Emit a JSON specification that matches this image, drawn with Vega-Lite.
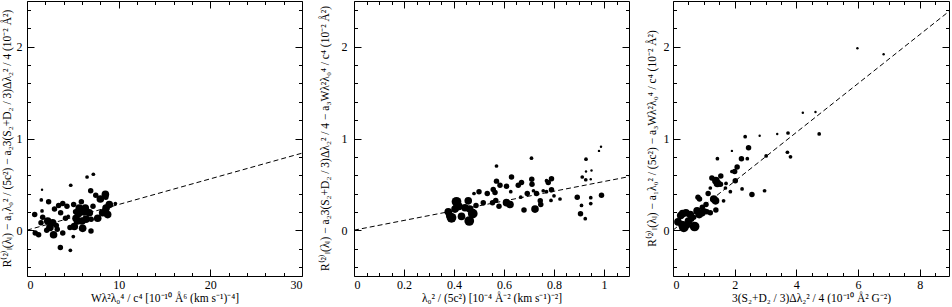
{
  "$schema": "https://vega.github.io/schema/vega-lite/v6.json",
  "padding": {"left": 0, "top": 0, "right": 0, "bottom": 0},
  "config": {
    "view": {"stroke": "black", "strokeWidth": 1},
    "axis": {"domain": false, "grid": false, "labelFont": "Liberation Serif", "titleFont": "Liberation Serif", "labelFontSize": 12, "titleFontSize": 11.5, "titleFontWeight": "normal", "labelColor": "black", "titleColor": "black", "tickColor": "black", "tickWidth": 1, "titleLimit": 400, "format": "~r"}
  },
  "datasets": {
    "p1": [
      {"x": 0.84, "y": 0.17, "w": 3}, {"x": 0.9, "y": -0.03, "w": 3}, {"x": 1.27, "y": -0.05, "w": 3}, {"x": 1.64, "y": 0.44, "w": 1},
      {"x": 1.56, "y": 0.33, "w": 2}, {"x": 1.64, "y": 0.21, "w": 2}, {"x": 1.71, "y": 0.14, "w": 3}, {"x": 1.53, "y": 0.08, "w": 3},
      {"x": 2.36, "y": 0.31, "w": 3}, {"x": 2.26, "y": 0.1, "w": 4}, {"x": 2.15, "y": 0.0, "w": 3}, {"x": 2.5, "y": 0.03, "w": 4},
      {"x": 2.8, "y": 0.08, "w": 4}, {"x": 2.9, "y": -0.05, "w": 4}, {"x": 3.0, "y": 0.23, "w": 3}, {"x": 3.2, "y": 0.05, "w": 3},
      {"x": 3.45, "y": 0.27, "w": 3}, {"x": 3.3, "y": 0.01, "w": 3}, {"x": 3.67, "y": 0.19, "w": 3}, {"x": 3.64, "y": -0.19, "w": 3},
      {"x": 3.9, "y": 0.29, "w": 3}, {"x": 3.9, "y": -0.03, "w": 3}, {"x": 4.2, "y": 0.13, "w": 3}, {"x": 4.36, "y": 0.26, "w": 3},
      {"x": 4.77, "y": 0.49, "w": 2}, {"x": 4.73, "y": -0.22, "w": 2}, {"x": 4.69, "y": 0.03, "w": 3}, {"x": 5.05, "y": -0.07, "w": 2},
      {"x": 5.09, "y": 0.28, "w": 3}, {"x": 5.16, "y": 0.04, "w": 4}, {"x": 5.35, "y": 0.13, "w": 4}, {"x": 5.5, "y": 0.1, "w": 4},
      {"x": 5.7, "y": 0.24, "w": 4}, {"x": 5.6, "y": 0.18, "w": 4}, {"x": 5.93, "y": 0.31, "w": 3}, {"x": 6.0, "y": 0.1, "w": 4},
      {"x": 6.07, "y": 0.02, "w": 4}, {"x": 6.2, "y": 0.2, "w": 4}, {"x": 6.36, "y": 0.24, "w": 4}, {"x": 6.44, "y": 0.12, "w": 4},
      {"x": 6.55, "y": 0.58, "w": 2}, {"x": 6.8, "y": 0.19, "w": 4}, {"x": 6.95, "y": 0.43, "w": 3}, {"x": 6.98, "y": -0.01, "w": 3},
      {"x": 7.0, "y": 0.12, "w": 3}, {"x": 7.24, "y": 0.61, "w": 2}, {"x": 7.5, "y": 0.38, "w": 3}, {"x": 7.71, "y": 0.13, "w": 4},
      {"x": 8.0, "y": 0.34, "w": 4}, {"x": 8.25, "y": 0.19, "w": 4}, {"x": 8.55, "y": 0.39, "w": 4}, {"x": 8.62, "y": 0.24, "w": 4},
      {"x": 8.6, "y": 0.36, "w": 3}, {"x": 8.8, "y": 0.17, "w": 4}, {"x": 8.98, "y": 0.28, "w": 4}, {"x": 9.64, "y": 0.29, "w": 2},
      {"x": 7.2, "y": 0.26, "w": 3}, {"x": 5.3, "y": 0.2, "w": 3}, {"x": 4.5, "y": 0.15, "w": 2}
    ],
    "p2": [
      {"x": 0.377, "y": 0.2, "w": 4}, {"x": 0.383, "y": 0.16, "w": 4}, {"x": 0.39, "y": 0.135, "w": 5}, {"x": 0.41, "y": 0.31, "w": 5},
      {"x": 0.404, "y": 0.23, "w": 4}, {"x": 0.43, "y": 0.15, "w": 4}, {"x": 0.42, "y": 0.26, "w": 4}, {"x": 0.444, "y": 0.245, "w": 4},
      {"x": 0.457, "y": 0.32, "w": 4}, {"x": 0.463, "y": 0.23, "w": 4}, {"x": 0.461, "y": 0.1, "w": 5}, {"x": 0.475, "y": 0.18, "w": 5},
      {"x": 0.488, "y": 0.27, "w": 3}, {"x": 0.48, "y": 0.4, "w": 2}, {"x": 0.5, "y": 0.42, "w": 3}, {"x": 0.517, "y": 0.3, "w": 3},
      {"x": 0.533, "y": 0.4, "w": 3}, {"x": 0.557, "y": 0.445, "w": 3}, {"x": 0.564, "y": 0.41, "w": 3}, {"x": 0.567, "y": 0.325, "w": 3},
      {"x": 0.57, "y": 0.535, "w": 3}, {"x": 0.57, "y": 0.7, "w": 2}, {"x": 0.554, "y": 0.3, "w": 3}, {"x": 0.584, "y": 0.49, "w": 3},
      {"x": 0.58, "y": 0.26, "w": 3}, {"x": 0.61, "y": 0.48, "w": 3}, {"x": 0.61, "y": 0.3, "w": 4}, {"x": 0.624, "y": 0.28, "w": 4},
      {"x": 0.627, "y": 0.42, "w": 2}, {"x": 0.63, "y": 0.58, "w": 3}, {"x": 0.657, "y": 0.49, "w": 3}, {"x": 0.667, "y": 0.36, "w": 2},
      {"x": 0.67, "y": 0.52, "w": 3}, {"x": 0.68, "y": 0.22, "w": 3}, {"x": 0.693, "y": 0.4, "w": 3}, {"x": 0.724, "y": 0.23, "w": 4},
      {"x": 0.73, "y": 0.4, "w": 3}, {"x": 0.745, "y": 0.32, "w": 3}, {"x": 0.747, "y": 0.28, "w": 3}, {"x": 0.711, "y": 0.555, "w": 3},
      {"x": 0.712, "y": 0.5, "w": 3}, {"x": 0.71, "y": 0.785, "w": 2}, {"x": 0.718, "y": 0.43, "w": 2}, {"x": 0.757, "y": 0.43, "w": 2},
      {"x": 0.77, "y": 0.42, "w": 2}, {"x": 0.77, "y": 0.54, "w": 2}, {"x": 0.777, "y": 0.52, "w": 3}, {"x": 0.79, "y": 0.44, "w": 3},
      {"x": 0.79, "y": 0.56, "w": 3}, {"x": 0.8, "y": 0.375, "w": 2}, {"x": 0.788, "y": 0.325, "w": 2}, {"x": 0.824, "y": 0.34, "w": 2},
      {"x": 0.893, "y": 0.36, "w": 3}, {"x": 0.906, "y": 0.18, "w": 3}, {"x": 0.91, "y": 0.27, "w": 2}, {"x": 0.913, "y": 0.58, "w": 2},
      {"x": 0.925, "y": 0.125, "w": 2}, {"x": 0.928, "y": 0.775, "w": 2}, {"x": 0.927, "y": 0.55, "w": 2}, {"x": 0.928, "y": 0.64, "w": 1},
      {"x": 0.947, "y": 0.355, "w": 2}, {"x": 0.947, "y": 0.29, "w": 2}, {"x": 0.947, "y": 0.555, "w": 1}, {"x": 0.95, "y": 0.65, "w": 1},
      {"x": 0.98, "y": 0.865, "w": 1}, {"x": 0.988, "y": 0.91, "w": 1}, {"x": 0.99, "y": 0.38, "w": 3}
    ],
    "p3": [
      {"x": 0.16, "y": 0.09, "w": 4}, {"x": 0.29, "y": 0.06, "w": 4}, {"x": 0.35, "y": 0.03, "w": 5}, {"x": 0.31, "y": 0.18, "w": 4},
      {"x": 0.42, "y": 0.19, "w": 4}, {"x": 0.45, "y": 0.06, "w": 4}, {"x": 0.56, "y": 0.17, "w": 4}, {"x": 0.5, "y": 0.1, "w": 4},
      {"x": 0.7, "y": 0.04, "w": 5}, {"x": 0.67, "y": 0.14, "w": 3}, {"x": 0.78, "y": 0.21, "w": 4}, {"x": 0.85, "y": 0.17, "w": 4},
      {"x": 0.81, "y": 0.36, "w": 3}, {"x": 0.86, "y": 0.34, "w": 3}, {"x": 0.94, "y": 0.19, "w": 4}, {"x": 1.03, "y": 0.21, "w": 3},
      {"x": 1.07, "y": 0.28, "w": 3}, {"x": 1.14, "y": 0.4, "w": 3}, {"x": 1.21, "y": 0.19, "w": 3}, {"x": 1.21, "y": 0.46, "w": 2},
      {"x": 1.26, "y": 0.57, "w": 3}, {"x": 1.32, "y": 0.34, "w": 4}, {"x": 1.38, "y": 0.32, "w": 4}, {"x": 1.39, "y": 0.54, "w": 4},
      {"x": 1.44, "y": 0.51, "w": 4}, {"x": 1.39, "y": 0.22, "w": 3}, {"x": 1.54, "y": 0.5, "w": 3}, {"x": 1.55, "y": 0.59, "w": 3},
      {"x": 1.44, "y": 0.78, "w": 2}, {"x": 1.64, "y": 0.32, "w": 2}, {"x": 1.7, "y": 0.46, "w": 2}, {"x": 1.72, "y": 0.51, "w": 2},
      {"x": 1.86, "y": 0.42, "w": 2}, {"x": 1.91, "y": 0.865, "w": 1}, {"x": 1.91, "y": 0.64, "w": 2}, {"x": 2.0, "y": 0.64, "w": 3},
      {"x": 2.02, "y": 0.54, "w": 3}, {"x": 2.08, "y": 0.69, "w": 3}, {"x": 2.22, "y": 0.78, "w": 3}, {"x": 2.24, "y": 0.45, "w": 2},
      {"x": 2.34, "y": 1.02, "w": 2}, {"x": 2.41, "y": 0.78, "w": 2}, {"x": 2.45, "y": 0.9, "w": 3}, {"x": 2.56, "y": 0.39, "w": 3},
      {"x": 2.81, "y": 1.03, "w": 1}, {"x": 2.97, "y": 0.43, "w": 2}, {"x": 3.02, "y": 0.81, "w": 2}, {"x": 3.38, "y": 1.05, "w": 1},
      {"x": 3.73, "y": 1.06, "w": 2}, {"x": 3.71, "y": 0.85, "w": 2}, {"x": 3.81, "y": 0.8, "w": 2}, {"x": 4.21, "y": 1.28, "w": 1},
      {"x": 4.62, "y": 1.29, "w": 1}, {"x": 4.74, "y": 1.05, "w": 2}, {"x": 5.98, "y": 1.985, "w": 1}, {"x": 6.83, "y": 1.92, "w": 1},
      {"x": 0.6, "y": 0.12, "w": 3}, {"x": 0.95, "y": 0.25, "w": 3}, {"x": 1.1, "y": 0.2, "w": 3}, {"x": 0.25, "y": 0.16, "w": 4}
    ],
    "f1": [{"x": 0, "y": 0}, {"x": 30, "y": 0.84}],
    "f2": [{"x": 0, "y": 0}, {"x": 1.1, "y": 0.584}],
    "f3": [{"x": 0, "y": 0}, {"x": 9, "y": 2.4}]
  },
  "hconcat": [
    {
      "width": 275, "height": 275,
      "layer": [
        {
          "data": {"name": "p1"},
          "mark": {"type": "circle", "color": "black", "opacity": 1, "clip": true},
          "encoding": {
            "x": {"field": "x", "type": "quantitative", "scale": {"domain": [0, 30], "nice": false, "zero": false}, "axis": {"orient": "bottom", "values": [0, 10, 20, 30], "ticks": false, "labelPadding": 3, "title": "Wλ²λ₀⁴ / c⁴  [10⁻¹⁰ Å⁶ (km s⁻¹)⁻⁴]", "titleY": 16, "titleBaseline": "top"}},
            "y": {"field": "y", "type": "quantitative", "scale": {"domain": [-0.5, 2.5], "nice": false, "zero": false}, "axis": {"orient": "left", "values": [0, 1, 2], "ticks": false, "labelPadding": 5, "title": "R⁽²⁾ₗ(λₗ) − a₁λ₀² / (5c²) − a₂3(S₂+D₂ / 3)Δλ₂² / 4  (10⁻² Å²)", "titleX": -15, "titleY": 137, "titleAngle": 270, "titleBaseline": "bottom", "titleAlign": "center"}},
            "size": {"field": "w", "type": "quantitative", "scale": {"domain": [1, 2, 3, 4, 5], "range": [6, 14, 30, 58, 95]}, "legend": null}
          }
        },
        {
          "data": {"name": "f1"},
          "mark": {"type": "line", "color": "black", "strokeWidth": 1, "strokeDash": [5, 3], "clip": true},
          "encoding": {
            "x": {"field": "x", "type": "quantitative", "axis": {"orient": "top", "values": [0, 10, 20, 30], "tickSize": -7, "labels": false, "title": null}},
            "y": {"field": "y", "type": "quantitative", "axis": {"orient": "right", "values": [0, 1, 2], "tickSize": -7, "labels": false, "title": null}}
          }
        },
        {
          "data": {"name": "f1"},
          "mark": {"type": "line", "opacity": 0},
          "encoding": {
            "x": {"field": "x", "type": "quantitative", "axis": {"orient": "bottom", "values": [0, 10, 20, 30], "tickSize": -7, "labels": false, "title": null}},
            "y": {"field": "y", "type": "quantitative", "axis": {"orient": "left", "values": [0, 1, 2], "tickSize": -7, "labels": false, "title": null}}
          }
        },
        {
          "data": {"name": "f1"},
          "mark": {"type": "line", "opacity": 0},
          "encoding": {
            "x": {"field": "x", "type": "quantitative", "axis": {"orient": "bottom", "values": [2, 4, 6, 8, 12, 14, 16, 18, 22, 24, 26, 28], "tickSize": -3.5, "labels": false, "title": null}},
            "y": {"field": "y", "type": "quantitative", "axis": {"orient": "left", "values": [-0.4, -0.2, 0.2, 0.4, 0.6, 0.8, 1.2, 1.4, 1.6, 1.8, 2.2, 2.4], "tickSize": -3.5, "labels": false, "title": null}}
          }
        },
        {
          "data": {"name": "f1"},
          "mark": {"type": "line", "opacity": 0},
          "encoding": {
            "x": {"field": "x", "type": "quantitative", "axis": {"orient": "top", "values": [2, 4, 6, 8, 12, 14, 16, 18, 22, 24, 26, 28], "tickSize": -3.5, "labels": false, "title": null}},
            "y": {"field": "y", "type": "quantitative", "axis": {"orient": "right", "values": [-0.4, -0.2, 0.2, 0.4, 0.6, 0.8, 1.2, 1.4, 1.6, 1.8, 2.2, 2.4], "tickSize": -3.5, "labels": false, "title": null}}
          }
        }
      ],
      "resolve": {"axis": {"x": "independent", "y": "independent"}}
    },
    {
      "width": 275, "height": 275,
      "layer": [
        {
          "data": {"name": "p2"},
          "mark": {"type": "circle", "color": "black", "opacity": 1, "clip": true},
          "encoding": {
            "x": {"field": "x", "type": "quantitative", "scale": {"domain": [0, 1.1], "nice": false, "zero": false}, "axis": {"orient": "bottom", "values": [0, 0.2, 0.4, 0.6, 0.8, 1], "ticks": false, "labelPadding": 3, "title": "λ₀² / (5c²)  [10⁻⁴ Å⁻² (km s⁻¹)⁻²]", "titleY": 16, "titleBaseline": "top"}},
            "y": {"field": "y", "type": "quantitative", "scale": {"domain": [-0.5, 2.5], "nice": false, "zero": false}, "axis": {"orient": "left", "values": [0, 1, 2], "ticks": false, "labelPadding": 7, "title": "R⁽²⁾ₗ(λₗ) − a₂3(S₂+D₂ / 3)Δλ₂² / 4 − a₃Wλ²λ₀⁴ / c⁴  (10⁻² Å²)", "titleX": -24, "titleY": 137, "titleAngle": 270, "titleBaseline": "bottom", "titleAlign": "center"}},
            "size": {"field": "w", "type": "quantitative", "scale": {"domain": [1, 2, 3, 4, 5], "range": [6, 14, 30, 58, 95]}, "legend": null}
          }
        },
        {
          "data": {"name": "f2"},
          "mark": {"type": "line", "color": "black", "strokeWidth": 1, "strokeDash": [5, 3], "clip": true},
          "encoding": {
            "x": {"field": "x", "type": "quantitative", "axis": {"orient": "top", "values": [0, 0.2, 0.4, 0.6, 0.8, 1], "tickSize": -7, "labels": false, "title": null}},
            "y": {"field": "y", "type": "quantitative", "axis": {"orient": "right", "values": [0, 1, 2], "tickSize": -7, "labels": false, "title": null}}
          }
        },
        {
          "data": {"name": "f2"},
          "mark": {"type": "line", "opacity": 0},
          "encoding": {
            "x": {"field": "x", "type": "quantitative", "axis": {"orient": "bottom", "values": [0, 0.2, 0.4, 0.6, 0.8, 1], "tickSize": -7, "labels": false, "title": null}},
            "y": {"field": "y", "type": "quantitative", "axis": {"orient": "left", "values": [0, 1, 2], "tickSize": -7, "labels": false, "title": null}}
          }
        },
        {
          "data": {"name": "f2"},
          "mark": {"type": "line", "opacity": 0},
          "encoding": {
            "x": {"field": "x", "type": "quantitative", "axis": {"orient": "bottom", "values": [0.05, 0.1, 0.15, 0.25, 0.3, 0.35, 0.45, 0.5, 0.55, 0.65, 0.7, 0.75, 0.85, 0.9, 0.95, 1.05], "tickSize": -3.5, "labels": false, "title": null}},
            "y": {"field": "y", "type": "quantitative", "axis": {"orient": "left", "values": [-0.4, -0.2, 0.2, 0.4, 0.6, 0.8, 1.2, 1.4, 1.6, 1.8, 2.2, 2.4], "tickSize": -3.5, "labels": false, "title": null}}
          }
        },
        {
          "data": {"name": "f2"},
          "mark": {"type": "line", "opacity": 0},
          "encoding": {
            "x": {"field": "x", "type": "quantitative", "axis": {"orient": "top", "values": [0.05, 0.1, 0.15, 0.25, 0.3, 0.35, 0.45, 0.5, 0.55, 0.65, 0.7, 0.75, 0.85, 0.9, 0.95, 1.05], "tickSize": -3.5, "labels": false, "title": null}},
            "y": {"field": "y", "type": "quantitative", "axis": {"orient": "right", "values": [-0.4, -0.2, 0.2, 0.4, 0.6, 0.8, 1.2, 1.4, 1.6, 1.8, 2.2, 2.4], "tickSize": -3.5, "labels": false, "title": null}}
          }
        }
      ],
      "resolve": {"axis": {"x": "independent", "y": "independent"}}
    },
    {
      "width": 276, "height": 275,
      "layer": [
        {
          "data": {"name": "p3"},
          "mark": {"type": "circle", "color": "black", "opacity": 1, "clip": true},
          "encoding": {
            "x": {"field": "x", "type": "quantitative", "scale": {"domain": [0, 8.95], "nice": false, "zero": false}, "axis": {"orient": "bottom", "values": [0, 2, 4, 6, 8], "ticks": false, "labelPadding": 3, "title": "3(S₂+D₂ / 3)Δλ₂² / 4  (10⁻¹⁰ Å² G⁻²)", "titleY": 16, "titleBaseline": "top"}},
            "y": {"field": "y", "type": "quantitative", "scale": {"domain": [-0.5, 2.5], "nice": false, "zero": false}, "axis": {"orient": "left", "values": [0, 1, 2], "ticks": false, "labelPadding": 4, "title": "R⁽²⁾ₗ(λₗ) − a₁λ₀² / (5c²) − a₃Wλ²λ₀⁴ / c⁴  (10⁻² Å²)", "titleX": -16, "titleY": 137, "titleAngle": 270, "titleBaseline": "bottom", "titleAlign": "center"}},
            "size": {"field": "w", "type": "quantitative", "scale": {"domain": [1, 2, 3, 4, 5], "range": [6, 14, 30, 58, 95]}, "legend": null}
          }
        },
        {
          "data": {"name": "f3"},
          "mark": {"type": "line", "color": "black", "strokeWidth": 1, "strokeDash": [5, 3], "clip": true},
          "encoding": {
            "x": {"field": "x", "type": "quantitative", "axis": {"orient": "top", "values": [0, 2, 4, 6, 8], "tickSize": -7, "labels": false, "title": null}},
            "y": {"field": "y", "type": "quantitative", "axis": {"orient": "right", "values": [0, 1, 2], "tickSize": -7, "labels": false, "title": null}}
          }
        },
        {
          "data": {"name": "f3"},
          "mark": {"type": "line", "opacity": 0},
          "encoding": {
            "x": {"field": "x", "type": "quantitative", "axis": {"orient": "bottom", "values": [0, 2, 4, 6, 8], "tickSize": -7, "labels": false, "title": null}},
            "y": {"field": "y", "type": "quantitative", "axis": {"orient": "left", "values": [0, 1, 2], "tickSize": -7, "labels": false, "title": null}}
          }
        },
        {
          "data": {"name": "f3"},
          "mark": {"type": "line", "opacity": 0},
          "encoding": {
            "x": {"field": "x", "type": "quantitative", "axis": {"orient": "bottom", "values": [0.5, 1, 1.5, 2.5, 3, 3.5, 4.5, 5, 5.5, 6.5, 7, 7.5, 8.5], "tickSize": -3.5, "labels": false, "title": null}},
            "y": {"field": "y", "type": "quantitative", "axis": {"orient": "left", "values": [-0.4, -0.2, 0.2, 0.4, 0.6, 0.8, 1.2, 1.4, 1.6, 1.8, 2.2, 2.4], "tickSize": -3.5, "labels": false, "title": null}}
          }
        },
        {
          "data": {"name": "f3"},
          "mark": {"type": "line", "opacity": 0},
          "encoding": {
            "x": {"field": "x", "type": "quantitative", "axis": {"orient": "top", "values": [0.5, 1, 1.5, 2.5, 3, 3.5, 4.5, 5, 5.5, 6.5, 7, 7.5, 8.5], "tickSize": -3.5, "labels": false, "title": null}},
            "y": {"field": "y", "type": "quantitative", "axis": {"orient": "right", "values": [-0.4, -0.2, 0.2, 0.4, 0.6, 0.8, 1.2, 1.4, 1.6, 1.8, 2.2, 2.4], "tickSize": -3.5, "labels": false, "title": null}}
          }
        }
      ],
      "resolve": {"axis": {"x": "independent", "y": "independent"}}
    }
  ],
  "spacing": 15
}
